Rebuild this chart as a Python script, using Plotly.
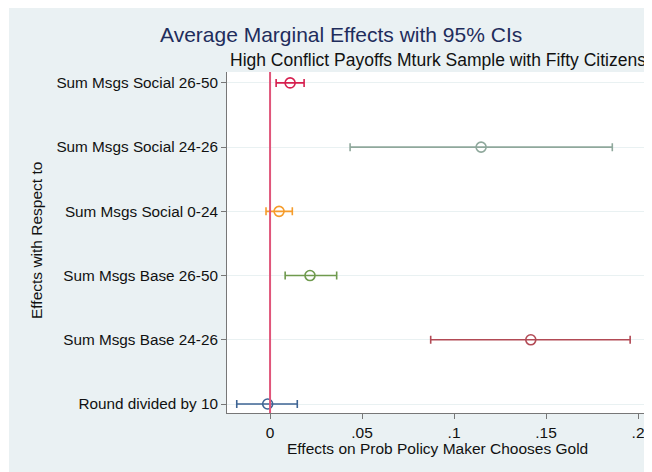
import plotly.graph_objects as go

categories = ["Round divided by 10", "Sum Msgs Base 24-26", "Sum Msgs Base 26-50",
              "Sum Msgs Social 0-24", "Sum Msgs Social 24-26", "Sum Msgs Social 26-50"]
estimates = [-0.0013, 0.1417, 0.0217, 0.0049, 0.1147, 0.0109]
ci_low = [-0.0181, 0.0873, 0.0082, -0.0022, 0.0435, 0.0033]
ci_high = [0.0148, 0.1957, 0.0362, 0.0121, 0.1860, 0.0185]
colors = ["#3e6494", "#b24a55", "#6f9a4e", "#f59c2b", "#8fa89c", "#d6204f"]
xtick_vals = [0, 0.05, 0.1, 0.15, 0.2]
xtick_text = ["0", ".05", ".1", ".15", ".2"]

# page body has an 8px margin; work in reference-pixel coordinates shifted by it
OFF = 8
W, H = 652 - OFF, 472 - OFF
L, T = 227 - OFF, 72 - OFF
RIGHT, BOTTOM = 648 - OFF, 413 - OFF
R, B = W - RIGHT, H - BOTTOM
pw, ph = RIGHT - L, BOTTOM - T

def px_x(p):
    return (p - OFF - L) / pw

def px_y(p):
    return (BOTTOM - (p - OFF)) / ph

fig = go.Figure()
for i, cat in enumerate(categories):
    fig.add_trace(go.Scatter(
        x=[estimates[i]], y=[i], mode="markers",
        marker=dict(symbol="circle-open", size=10, color=colors[i], line=dict(width=1.6)),
        error_x=dict(type="data", symmetric=False,
                     array=[ci_high[i] - estimates[i]],
                     arrayminus=[estimates[i] - ci_low[i]],
                     color=colors[i], thickness=1.6, width=4),
        showlegend=False, hoverinfo="skip"))

fig.add_shape(type="rect", xref="paper", yref="paper",
              x0=px_x(9), x1=px_x(660), y0=px_y(480), y1=px_y(OFF),
              fillcolor="#eaf1f3", line=dict(width=0), layer="below")
fig.add_shape(type="rect", xref="paper", yref="paper",
              x0=0, x1=1, y0=0, y1=1,
              fillcolor="white", line=dict(width=0), layer="below")
fig.add_shape(type="line", xref="x", yref="paper", x0=0, x1=0, y0=0, y1=1,
              line=dict(color="#e0557a", width=2))

font_family = "Liberation Sans, Arial, sans-serif"
fig.add_annotation(text="Average Marginal Effects with 95% CIs", xref="paper", yref="paper",
                   x=px_x(341), y=px_y(34), showarrow=False, xanchor="center", yanchor="middle",
                   font=dict(size=21, color="#1f2d5c", family=font_family))
fig.add_annotation(text="High Conflict Payoffs Mturk Sample with Fifty Citizens", xref="paper", yref="paper",
                   x=px_x(437.5), y=px_y(60), showarrow=False, xanchor="center", yanchor="middle",
                   font=dict(size=17.5, color="#111111", family=font_family))
fig.add_annotation(text="Effects with Respect to", xref="paper", yref="paper",
                   x=px_x(36), y=px_y(241), showarrow=False, textangle=-90,
                   xanchor="center", yanchor="middle",
                   font=dict(size=15.5, color="#111111", family=font_family))
fig.add_annotation(text="Effects on Prob Policy Maker Chooses Gold", xref="paper", yref="paper",
                   x=px_x(437.5), y=px_y(449), showarrow=False, xanchor="center", yanchor="middle",
                   font=dict(size=15.5, color="#111111", family=font_family))

fig.update_layout(
    width=W, height=H,
    margin=dict(l=L, r=R, t=T, b=B),
    paper_bgcolor="white", plot_bgcolor="rgba(0,0,0,0)",
    font=dict(family=font_family, size=15.5, color="#111111"),
    xaxis=dict(range=[-0.0234, 0.2054], tickvals=xtick_vals, ticktext=xtick_text,
               showgrid=False, zeroline=False, showline=True, linecolor="#777777", linewidth=1,
               ticks="outside", ticklen=5, tickcolor="#777777", tickfont=dict(size=15.5)),
    yaxis=dict(range=[-0.14, 5.17], tickvals=list(range(len(categories))), ticktext=categories,
               showgrid=True, gridcolor="#e9f1f2", gridwidth=1, zeroline=False,
               showline=True, linecolor="#777777", linewidth=1,
               ticks="outside", ticklen=5, tickcolor="#777777", tickfont=dict(size=15.3)),
)

fig.write_html("out.html")
